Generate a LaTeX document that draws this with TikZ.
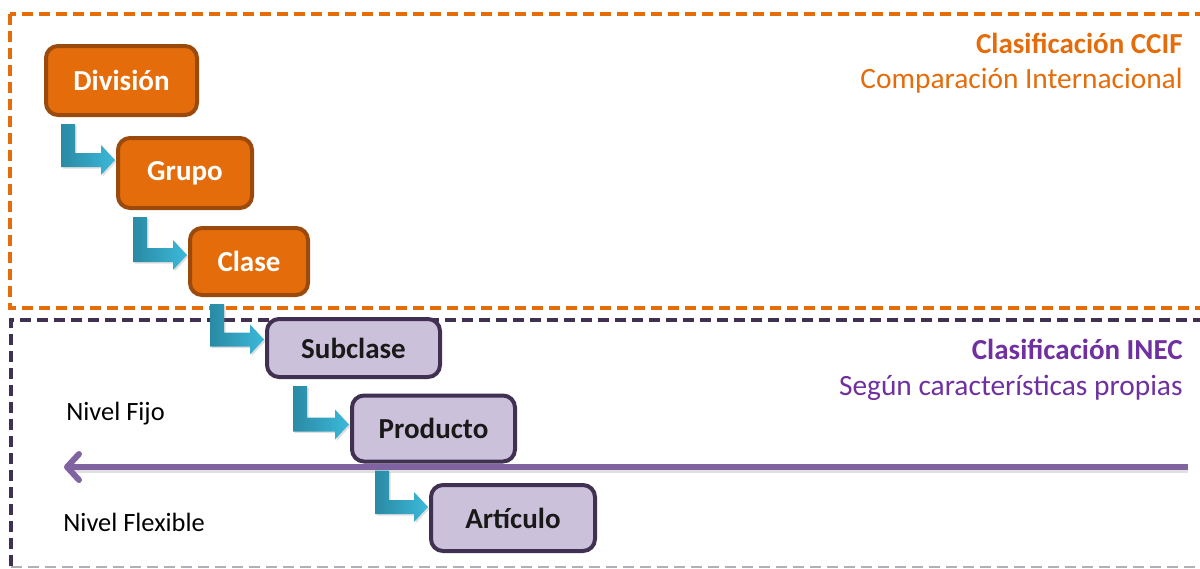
\documentclass[tikz,border=0pt]{standalone}
\usepackage{fontspec}
\setmainfont{Carlito}
\usetikzlibrary{arrows.meta,calc,shadows}
\definecolor{ccifOrange}{HTML}{E46C0A}
\definecolor{ccifBorder}{HTML}{9A4A0C}
\definecolor{inecFill}{HTML}{CCC1DA}
\definecolor{inecBorder}{HTML}{403152}
\definecolor{inecText}{HTML}{7030A0}
\definecolor{inecLine}{HTML}{8064A2}
\definecolor{tealDark}{HTML}{2A8AA4}
\definecolor{tealLight}{HTML}{3CB9DA}
\newcommand{\bentarrow}[4]{%
  \path[bentstyle] let \p1=($(#1.south west)+(#3,7)$), \p2=($(#2.west)+(-1,#4)$) in
    (\x1,\y1) -- (\x1+7pt,\y1) -- (\x1+7pt,\y2+3.5pt) -- (\x2-7pt,\y2+3.5pt)
    -- (\x2-7pt,\y2+7.5pt) -- (\x2,\y2) -- (\x2-7pt,\y2-7.5pt) -- (\x2-7pt,\y2-3.5pt)
    -- (\x1,\y2-3.5pt) -- cycle;}
\begin{document}
\begin{tikzpicture}[x=0.5pt,y=-0.5pt,
  ccifbox/.style={draw=ccifBorder,fill=ccifOrange,line width=2pt,rounded corners=6pt,
    text=white,font=\fontsize{14.5}{17}\selectfont\bfseries,inner sep=0pt},
  inecbox/.style={draw=inecBorder,fill=inecFill,line width=2pt,rounded corners=6pt,
    text=black!90,font=\fontsize{14.5}{17}\selectfont\bfseries,inner sep=0pt},
  bentstyle/.style={left color=tealDark,right color=tealLight,
    drop shadow={opacity=0.25,shadow xshift=0.8pt,shadow yshift=-0.8pt}},
  dashframe/.style={line width=2pt,dash pattern=on 5.5pt off 3pt},
  headbold/.style={font=\fontsize{14.5}{17}\selectfont\bfseries,inner sep=0pt,anchor=base east},
  headreg/.style={font=\fontsize{14.7}{17}\selectfont,inner sep=0pt,anchor=base east},
  level/.style={font=\fontsize{13.2}{16}\selectfont,inner sep=0pt,anchor=base west,text=black}]
\useasboundingbox (0,0) rectangle (1200,568);
% frames
\draw[dashframe,draw=ccifOrange] (10,14) rectangle (1215,308);
\draw[dashframe,draw=inecBorder] (11,566) -- (11,320) -- (1215,320);
\draw[dashframe,draw=inecBorder!40,line width=1pt] (11,566.5) -- (1215,566.5);
% headings
\node[headbold,text=ccifOrange] (h1) at (1183,53) {Clasificación CCIF};
\node[headreg,text=ccifOrange] (h2) at (1183,88) {Comparación Internacional};
\node[headbold,text=inecText] (h3) at (1183,359) {Clasificación INEC};
\node[headreg,text=inecText] (h4) at (1183,395) {Según características propias};
% levels
\node[level] (fijo) at (66,420) {Nivel Fijo};
\node[level] (flex) at (63,531) {Nivel Flexible};
% level line
\coordinate (lineR) at (1188,467);
\coordinate (lineL) at (64,467);
\draw[line width=3pt,draw=black,opacity=0.12,transform canvas={yshift=-1.5pt}] (lineR) -- ($(lineL)+(10,0)$);
\draw[line width=3pt,draw=inecLine,-{Straight Barb[length=6pt,width=13pt,round]}] (lineR) -- (lineL);
% nodes
\node[ccifbox,minimum width=75.5pt,minimum height=34.5pt] (div) at (121.5,80.5) {División};
\node[ccifbox,minimum width=67pt,minimum height=35pt] (gru) at (185,173) {Grupo};
\node[ccifbox,minimum width=59pt,minimum height=33.5pt] (cla) at (249,261.5) {Clase};
\node[inecbox,minimum width=86.5pt,minimum height=29pt] (sub) at (353.5,348) {Subclase};
\node[inecbox,minimum width=81.5pt,minimum height=33pt] (pro) at (433.5,428.5) {Producto};
\node[inecbox,minimum width=82pt,minimum height=33pt] (art) at (513,518) {Artículo};
% bent arrows
\bentarrow{div}{gru}{17}{-13}
\bentarrow{gru}{cla}{17}{-6.5}
\bentarrow{cla}{sub}{22}{-8.5}
\bentarrow{sub}{pro}{28}{-4}
\bentarrow{pro}{art}{25}{-11}
\end{tikzpicture}
\end{document}
